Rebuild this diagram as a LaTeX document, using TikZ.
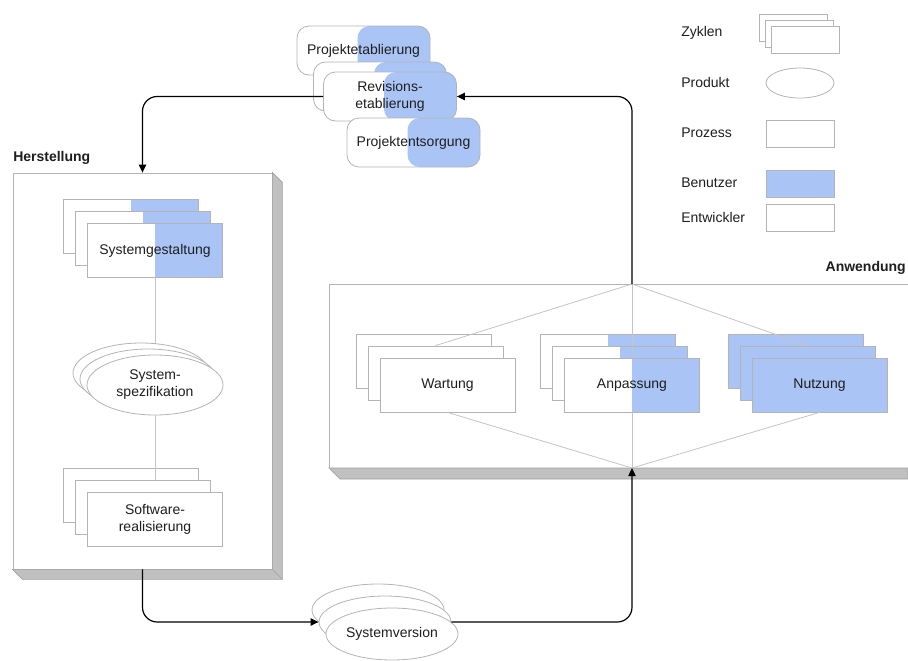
\documentclass[tikz,border=0pt]{standalone}
\usepackage{fontspec}
\setmainfont{Liberation Sans}
\usetikzlibrary{shapes.geometric,arrows.meta}

\definecolor{ublue}{RGB}{170,196,245}
\definecolor{edge}{RGB}{180,180,180}
\definecolor{guide}{RGB}{196,196,196}
\definecolor{shade}{RGB}{192,192,192}
\definecolor{shadeedge}{RGB}{160,160,160}
\definecolor{ink}{RGB}{30,30,30}

\pgfdeclarelayer{base}
\pgfdeclarelayer{guides}
\pgfsetlayers{base,guides,main}

% three stacked copies of a shape: back (C), middle (B), front (A)
\newcommand{\cyc}[7]{%
  \node[#2] (#1C) at ({#3-2*#5},{#4-2*#6}) {};
  \node[#2] (#1B) at ({#3-#5},{#4-#6}) {};
  \node[#2] (#1A) at (#3,#4) {#7};}

\tikzset{
  lbl/.style={font=\fontsize{10.5pt}{12.75pt}\selectfont, text=ink, align=center},
  title/.style={font=\bfseries\fontsize{10.5pt}{12.75pt}\selectfont, text=ink, inner sep=0pt},
  proc/.style={lbl, draw=edge, line width=0.6pt, fill=white, minimum width=101.25pt,
    minimum height=40.5pt, inner sep=0pt},
  halfproc/.style={proc, path picture={\fill[ublue] (path picture bounding box.north)
    rectangle (path picture bounding box.south east);}},
  userproc/.style={proc, fill=ublue},
  phase/.style={lbl, draw=edge, line width=0.6pt, fill=white, rounded corners=9pt,
    minimum width=99.75pt, minimum height=36.75pt, inner sep=0pt,
    path picture={\fill[ublue, rounded corners=9pt]
      ([xshift=-4.5pt]path picture bounding box.north) rectangle
      ([xshift=9pt]path picture bounding box.south east);}},
  prod/.style={lbl, ellipse, draw=edge, line width=0.6pt, fill=white,
    minimum width=102pt, minimum height=45pt, inner sep=0pt},
  ver/.style={lbl, ellipse, draw=edge, line width=0.6pt, fill=white,
    minimum width=99pt, minimum height=39pt, inner sep=0pt},
  area/.style={draw=edge, line width=0.6pt, fill=white, inner sep=0pt},
  guideline/.style={draw=guide, line width=0.6pt},
  conn/.style={draw=black, line width=0.9pt, rounded corners=11pt,
    -{Triangle[length=6pt,width=5.5pt]}},
  legrect/.style={draw=edge, line width=0.6pt, fill=white, minimum width=51pt,
    minimum height=20.25pt, inner sep=0pt},
  legell/.style={ellipse, draw=edge, line width=0.6pt, fill=white, minimum width=51pt,
    minimum height=22.5pt, inner sep=0pt},
  legtext/.style={lbl, anchor=west, inner sep=0pt},
}

\begin{document}
\begin{tikzpicture}[x=0.75pt,y=-0.75pt]
\useasboundingbox (0,0) rectangle (908,661);

% ---- Herstellung block with extruded shadow
\begin{pgfonlayer}{base}
  \node[area, minimum width=194.25pt, minimum height=297pt] (her) at (142.5,371) {};
  \filldraw[fill=shade, draw=shadeedge, line width=0.5pt]
    (her.north east) -- ++(10,10) |- ([shift={(10,10)}]her.south west)
    -- (her.south west) -- (her.south east) -- cycle;
  \draw[shadeedge, line width=0.5pt] (her.south east) -- ++(10,10);
  % ---- Anwendung block (runs past the right edge)
  \filldraw[fill=shade, draw=shadeedge, line width=0.5pt]
    (329,468) -- (340,479) -- (908,479) -- (908,468) -- cycle;
  \draw[edge, line width=0.6pt] (908,284) -| (329,468) -- (908,468);
\end{pgfonlayer}
\node[title, anchor=west] (herT) at (13,158) {Herstellung};
\node[title, anchor=east] (anwT) at (906,268) {Anwendung};
\coordinate (anwTop) at (632,284);
\coordinate (anwBot) at (632,468);

% ---- Herstellung contents
\cyc{sg}{halfproc}{155}{250.5}{12}{12}{Systemgestaltung}
\cyc{sp}{prod}{155}{385}{7}{6}{System-\\spezifikation}
\cyc{sr}{proc}{155}{519}{12}{12}{Software-\\realisierung}
\begin{pgfonlayer}{guides}
  \draw[guideline] (sgA.south) -- (spA.center);
\end{pgfonlayer}
\draw[guideline] (spA.south) -- (spA.south |- srB.north);

% ---- Anwendung contents
\cyc{wa}{proc}{447.5}{385}{12}{12}{Wartung}
\cyc{an}{halfproc}{632}{385}{12}{12}{Anpassung}
\cyc{nu}{userproc}{819.5}{385}{12}{12}{Nutzung}
\draw[guideline] (waB.north) -- (anwTop) -- (nuB.north);
\draw[guideline] (waA.south) -- (anwBot) -- (nuA.south);
\draw[guideline] (anwTop) -- (anA.north);
\draw[guideline] (anA.south) -- (anwBot);

% ---- project phases
\node[phase] (pe) at (363.5,50.5) {Projektetablierung};
\node[phase] (revB) at (380,86.5) {};
\node[phase] (revA) at (390,96.5) {Revisions-\\etablierung};
\node[phase] (po) at (413.5,142.5) {Projektentsorgung};

% ---- system version
\cyc{sv}{ver}{392}{634}{7}{12}{Systemversion}

% ---- cycle connectors
\draw[conn] (revA.west) -| (her.north);
\draw[conn] (her.south) |- (svB.west);
\draw[conn] (svB.east) -| (anwBot);
\draw[conn] (anwTop) |- (revA.east);

% ---- legend
\node[legtext] (lz) at (681,33) {Zyklen};
\node[legrect] (zC) at (793,27.5) {};
\node[legrect] (zB) at (799,33.5) {};
\node[legrect] (zA) at (805,39.5) {};
\node[legtext] (lp) at (681,82) {Produkt};
\node[legell] (pI) at (800,83) {};
\node[legtext] (lr) at (681,133) {Prozess};
\node[legrect] (rI) at (800,133.5) {};
\node[legtext] (lb) at (681,183) {Benutzer};
\node[legrect, fill=ublue] (bI) at (800,183.5) {};
\node[legtext] (le) at (681,217) {Entwickler};
\node[legrect] (eI) at (800,217.5) {};
\end{tikzpicture}
\end{document}
